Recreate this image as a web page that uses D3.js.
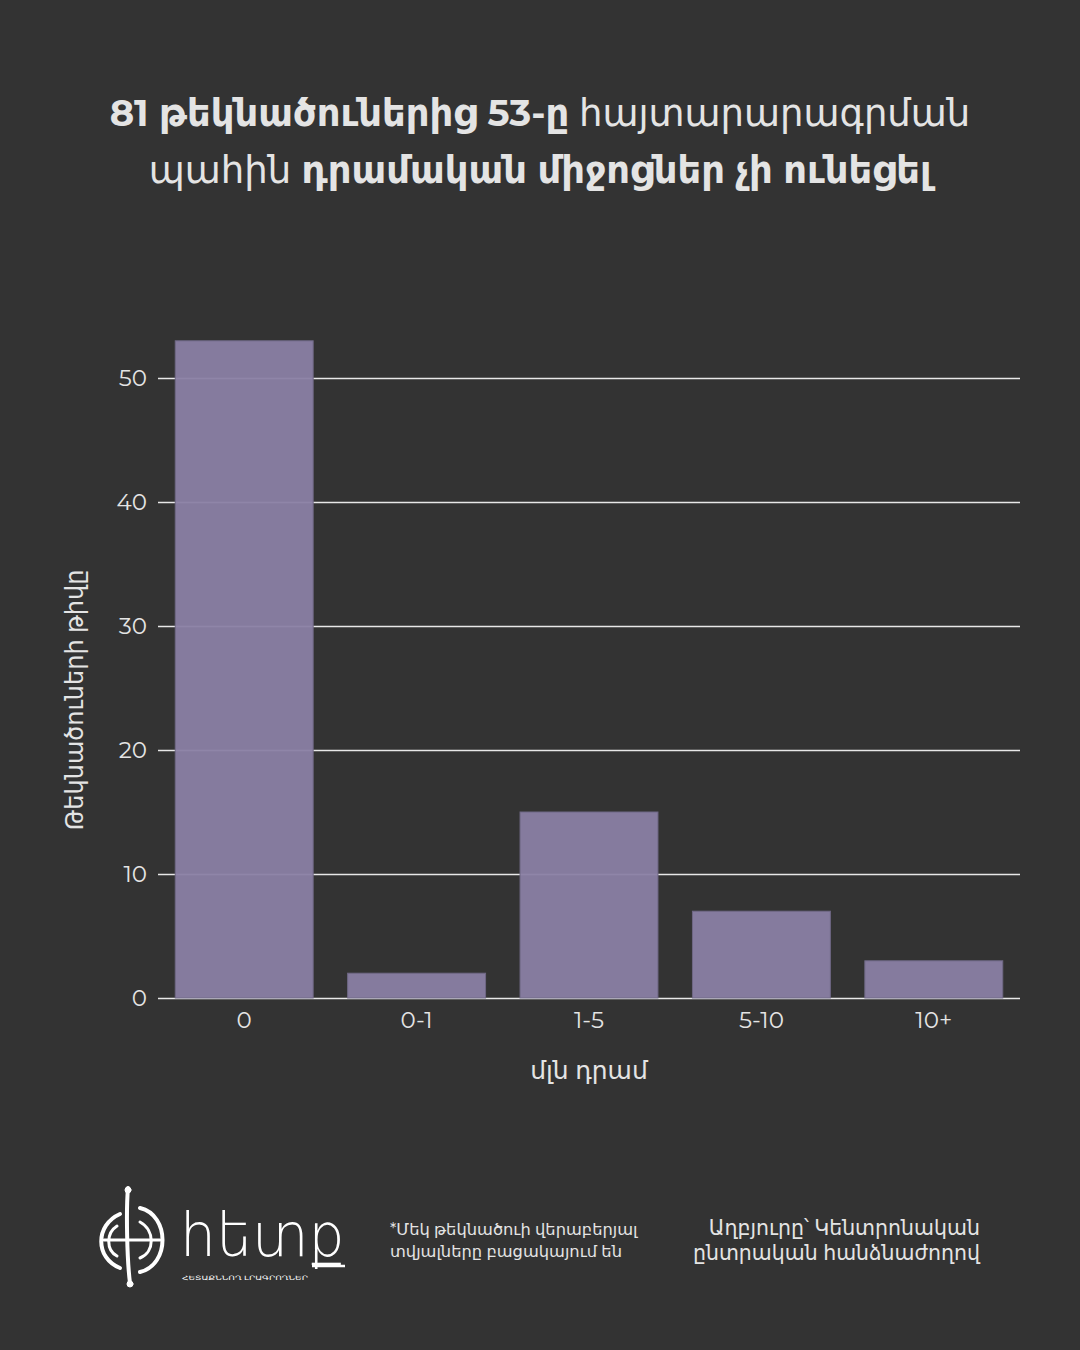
<!DOCTYPE html>
<html><head><meta charset="utf-8">
<script src="https://cdn.jsdelivr.net/npm/d3@7"></script>
<style>
html,body{margin:0;padding:0;background:#333333;}
svg{display:block;}
text{font-family:"Montserrat","Noto Sans","DejaVu Sans",sans-serif;}
</style></head>
<body>
<svg id="c" width="1080" height="1350"></svg>
<script>
const categories = ["0", "0-1", "1-5", "5-10", "10+"];
const values = [53, 2, 15, 7, 3];
const yTicks = [0, 10, 20, 30, 40, 50];
const titleLine1 = [["81 թեկնածուներից 53-ը", true], [" հայտարարագրման", false]];
const titleLine2 = [["պահին", false], [" դրամական միջոցներ չի ունեցել", true]];
const yLabel = "Թեկնածուների թիվը";
const xLabel = "մլն դրամ";
const footnote = ["*Մեկ թեկնածուի վերաբերյալ", "տվյալները բացակայում են"];
const source = ["Աղբյուրը՝ Կենտրոնական", "ընտրական հանձնաժողով"];

const svg = d3.select("#c");
const W = 1080, H = 1350;
svg.append("rect").attr("width", W).attr("height", H).attr("fill", "#333333");

const txt = "#e4e4e4";
const ff = '"Montserrat","Noto Sans","DejaVu Sans",sans-serif';
// title
[[titleLine1, 126], [titleLine2, 183]].forEach(([parts, y]) => {
  const t = svg.append("text").attr("x", 540).attr("y", y).attr("text-anchor", "middle")
    .attr("fill", txt).attr("font-size", 37);
  parts.forEach(([s, b]) => t.append("tspan").text(s).attr("font-weight", b ? 700 : 400));
});

const x = d3.scaleBand().domain(categories).range([158, 1020]).paddingInner(0.2).paddingOuter(0.1);
const y = d3.scaleLinear().domain([0, 50]).range([998, 378]);

// gridlines
const yAxis = svg.append("g").attr("transform", "translate(158,0)")
  .call(d3.axisLeft(y).tickValues(yTicks).tickSize(-862).tickPadding(11).tickFormat(d3.format("d")));
yAxis.select(".domain").remove();
yAxis.selectAll(".tick line").attr("stroke", "#e8e8e8").attr("stroke-width", 1.5);
yAxis.selectAll(".tick text").attr("fill", txt).attr("font-size", 23).style("font-family", ff);

// bars
svg.append("g").selectAll("rect").data(values).join("rect")
  .attr("x", (d, i) => x(categories[i]))
  .attr("width", x.bandwidth())
  .attr("y", d => y(d))
  .attr("height", d => y(0) - y(d))
  .attr("fill", "#8a80a4").attr("fill-opacity", 0.95)
  .attr("stroke", "#6f6885").attr("stroke-width", 1);

// x axis labels
const xAxis = svg.append("g").attr("transform", "translate(0,998)")
  .call(d3.axisBottom(x).tickSize(0).tickPadding(14));
xAxis.select(".domain").remove();
xAxis.selectAll(".tick text").attr("fill", txt).attr("font-size", 23).style("font-family", ff);

// axis titles
svg.append("text").attr("x", 589).attr("y", 1079).attr("text-anchor", "middle")
  .attr("fill", txt).attr("font-size", 25).text(xLabel);
svg.append("text").attr("transform", "translate(83,700) rotate(-90)").attr("text-anchor", "middle")
  .attr("fill", txt).attr("font-size", 24).text(yLabel);

// footer
footnote.forEach((s, i) => svg.append("text").attr("x", 390).attr("y", 1235 + i * 22)
  .attr("fill", txt).attr("font-size", 16.3).text(s));
source.forEach((s, i) => svg.append("text").attr("x", 980).attr("y", 1235 + i * 25)
  .attr("text-anchor", "end").attr("fill", txt).attr("font-size", 20.5).text(s));

// logo
const lg = svg.append("g").attr("fill", "none").attr("stroke", "#ffffff").attr("stroke-linecap", "round");
lg.append("path").attr("d", "M128,1188 C126,1210 127,1260 130,1283").attr("stroke-width", 4);
lg.append("circle").attr("cx", 128).attr("cy", 1190).attr("r", 3).attr("fill", "#fff");
lg.append("circle").attr("cx", 130).attr("cy", 1284).attr("r", 3).attr("fill", "#fff");
lg.append("path").attr("d", "M140,1208 C170,1215 170,1265 140,1272").attr("stroke-width", 4);
lg.append("path").attr("d", "M120,1214 C95,1225 95,1258 120,1268").attr("stroke-width", 4);
lg.append("path").attr("d", "M140,1222 C155,1230 155,1252 140,1258").attr("stroke-width", 3);
lg.append("path").attr("d", "M117,1226 C106,1233 106,1250 117,1256").attr("stroke-width", 3);
lg.append("path").attr("d", "M104,1240 L160,1240").attr("stroke-width", 3);
svg.append("text").attr("fill", "#ffffff").attr("x", 180).attr("y", 1256).attr("font-size", 60).attr("font-weight", 300)
  .attr("textLength", 165).attr("lengthAdjust", "spacingAndGlyphs").text("հետք");
svg.append("text").attr("fill", "#ffffff").attr("x", 182).attr("y", 1280).attr("font-size", 6)
  .attr("textLength", 126).attr("lengthAdjust", "spacingAndGlyphs").text("ՀԵՏԱՔՆՆՈՂ ԼՐԱԳՐՈՂՆԵՐ");
svg.append("line").attr("x1", 312).attr("x2", 345).attr("y1", 1266).attr("y2", 1266)
  .attr("stroke", "#fff").attr("stroke-width", 2.5);
</script>
</body></html>
